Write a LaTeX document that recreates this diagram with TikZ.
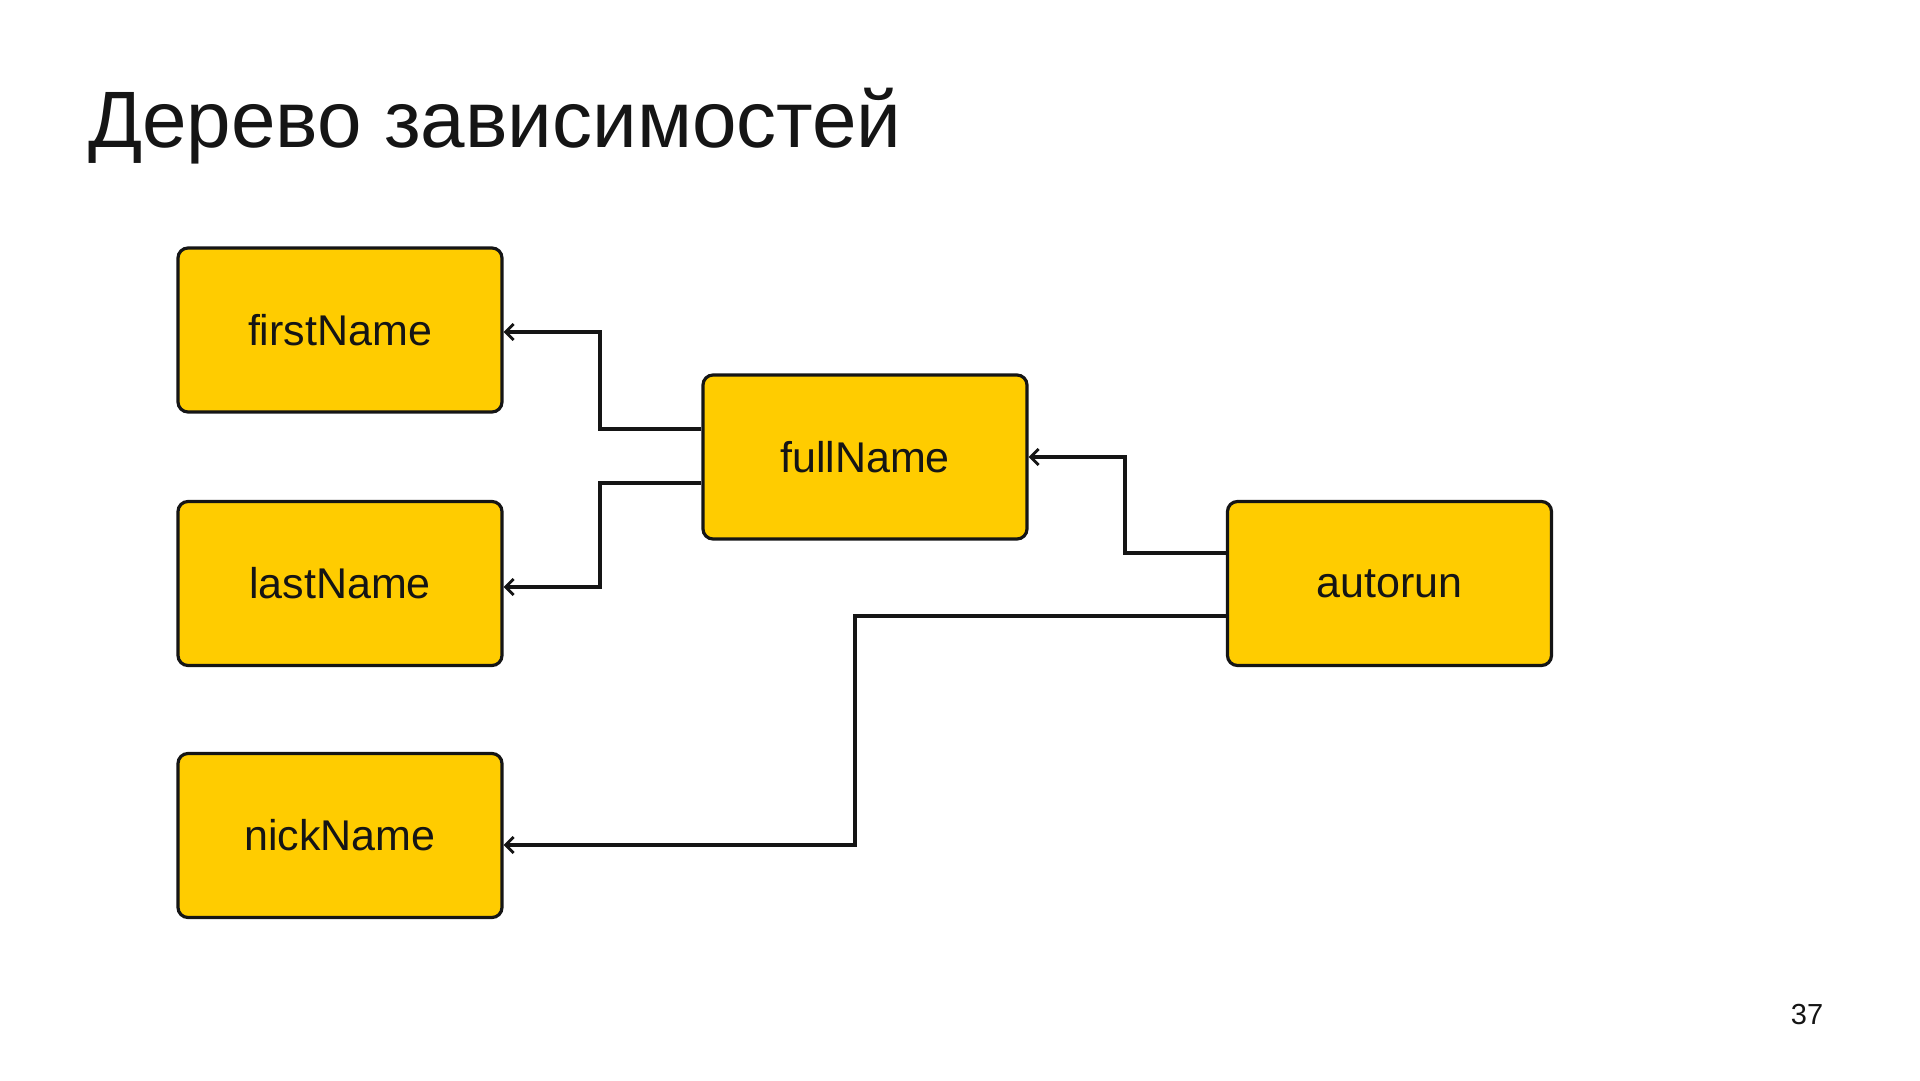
\documentclass[tikz,border=0pt]{standalone}
\usepackage{fontspec}
\setmainfont{Liberation Sans}
\usetikzlibrary{arrows.meta}
\definecolor{boxyellow}{HTML}{FFCC00}
\definecolor{ink}{HTML}{151515}
\tikzset{
  namebox/.style={draw=ink, line width=3.2pt, fill=boxyellow, rounded corners=10pt,
    minimum width=324pt, minimum height=164pt, inner sep=0pt,
    font=\fontsize{43}{50}\selectfont, text=ink},
  conn/.style={draw=ink, line width=3.2pt, -{Straight Barb[length=8pt,width=16pt,line width=2.8pt]}}
}
\begin{document}
\begin{tikzpicture}[x=1pt,y=-1pt]
\useasboundingbox (0,0) rectangle (1920,1080);
\node[anchor=base west, inner sep=0pt, font=\fontsize{80}{90}\selectfont, text=ink] (title) at (88,147) {Дерево зависимостей};
\node[namebox] (first) at (340,330) {firstName};
\node[namebox] (last) at (340,583.5) {lastName};
\node[namebox] (nick) at (340,835.5) {nickName};
\node[namebox] (full) at (865,457) {fullName};
\node[namebox] (auto) at (1389.5,583.5) {autorun};
\node[inner sep=0pt, font=\fontsize{29}{34}\selectfont, text=ink] (page) at (1807,1015) {37};
\draw[conn] (full.west |- 0,429) -- (600,429) |- (first.east |- 0,332);
\draw[conn] (full.west |- 0,483) -- (600,483) |- (last.east |- 0,587);
\draw[conn] (auto.west |- 0,553) -- (1125,553) |- (full.east |- 0,457);
\draw[conn] (auto.west |- 0,616) -- (855,616) |- (nick.east |- 0,845);
\end{tikzpicture}
\end{document}
